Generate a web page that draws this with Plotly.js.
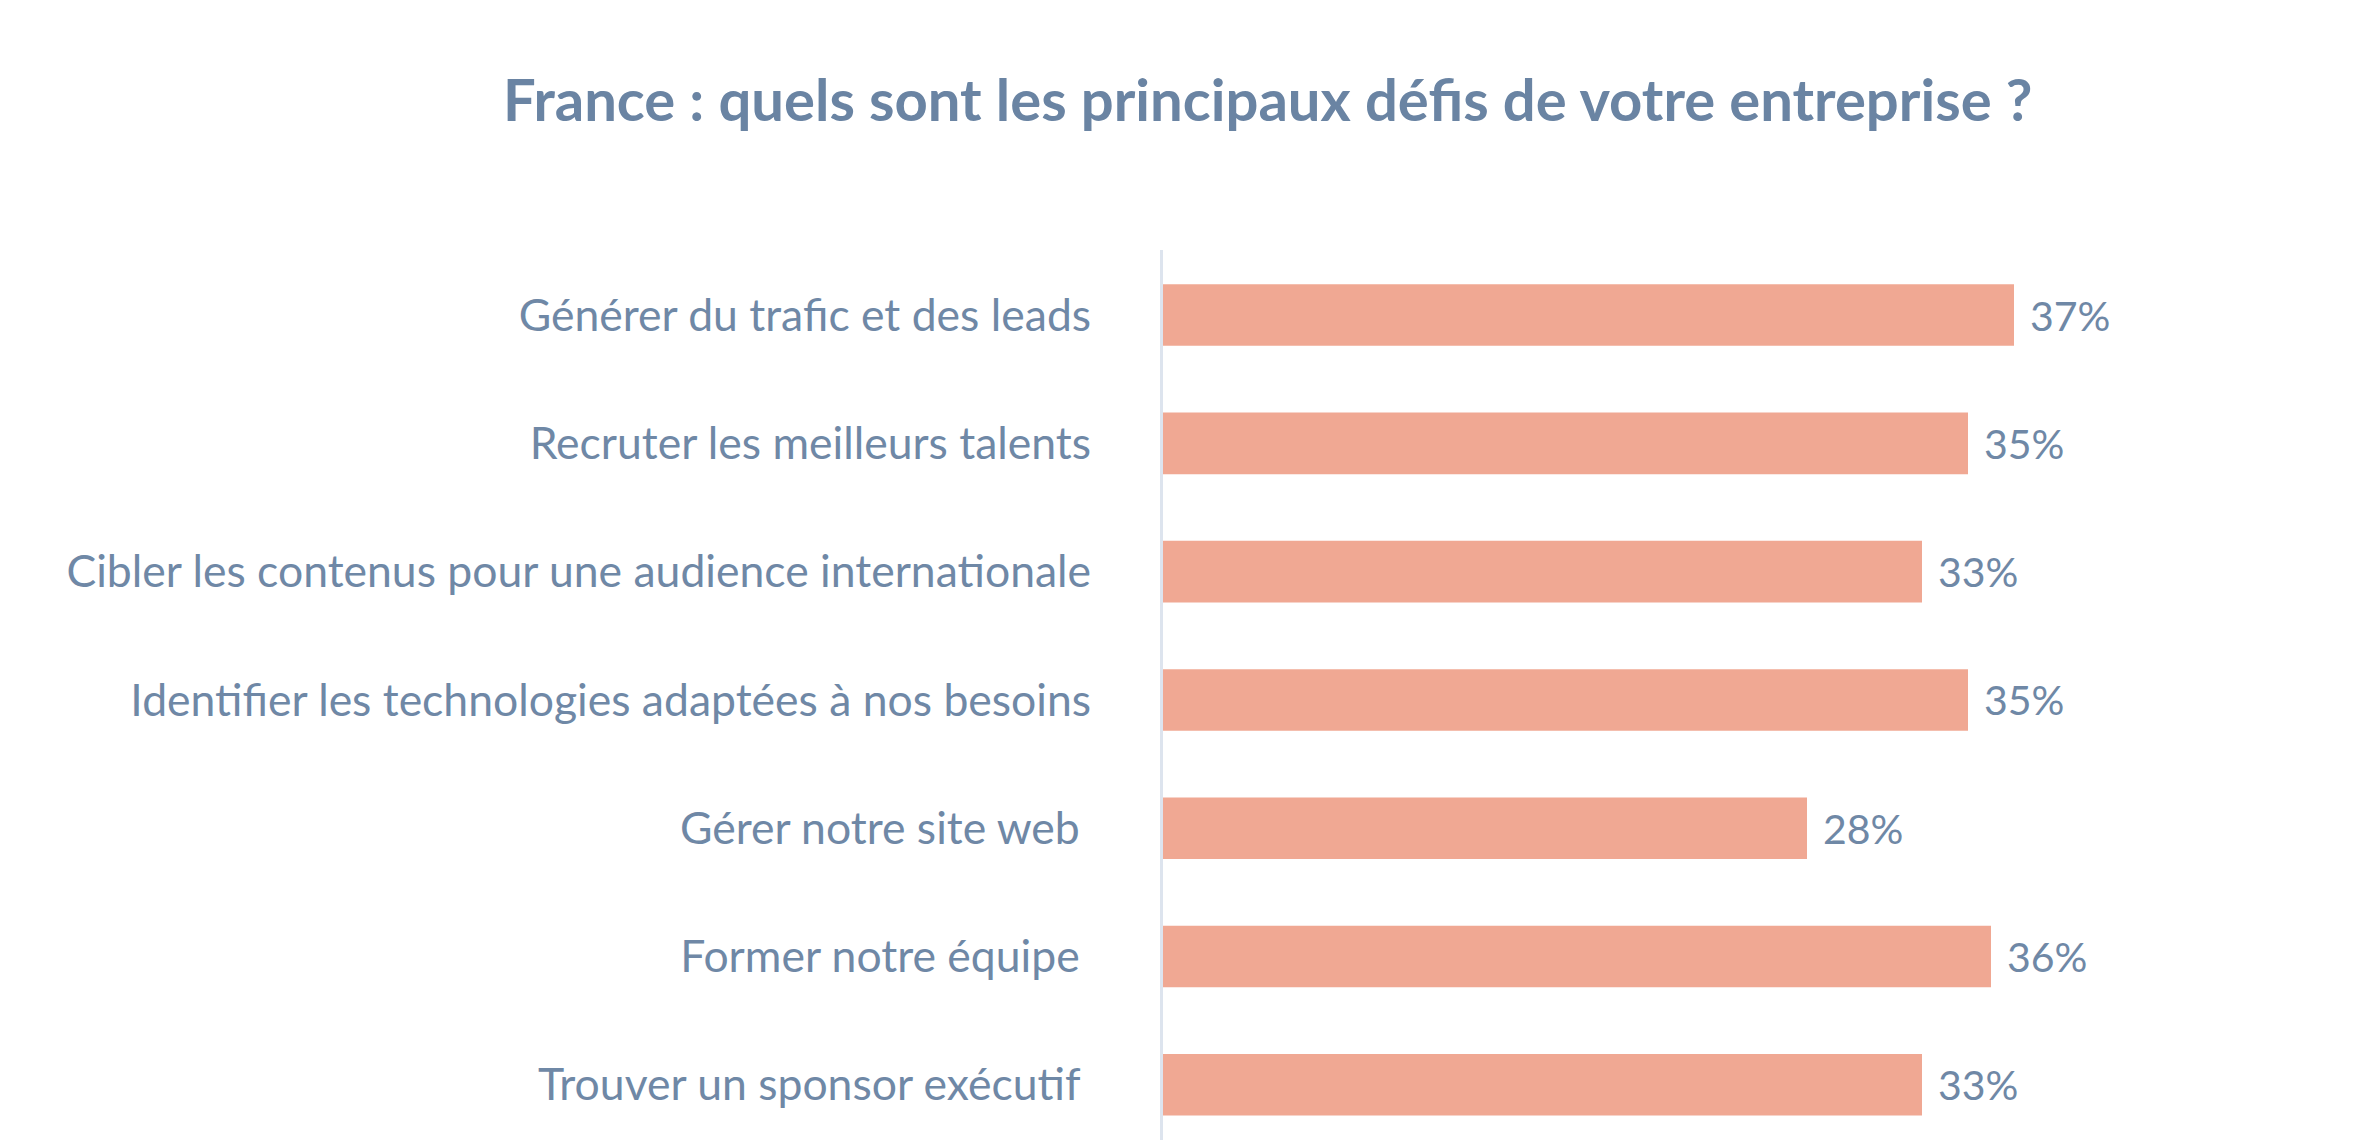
<!DOCTYPE html>
<html>
<head>
<meta charset="utf-8">
<script src="https://cdn.plot.ly/plotly-3.0.1.min.js"></script>
<style>html,body{margin:0;padding:0;background:#fff;}#chart{width:2374px;height:1140px;}</style>
</head>
<body>
<div id="chart"></div>
<script>
var categories = [
  "Générer du trafic et des leads",
  "Recruter les meilleurs talents",
  "Cibler les contenus pour une audience internationale",
  "Identifier les technologies adaptées à nos besoins",
  "Gérer notre site web\u00a0",
  "Former notre équipe\u00a0",
  "Trouver un sponsor exécutif\u00a0"
];
var values = [37, 35, 33, 35, 28, 36, 33];
var valueLabels = values.map(function(v){ return v + "%"; });
var titleText = "France : quels sont les principaux défis de votre entreprise ?";

var textColor = "#6f88a6";
var barColor = "#f0a893";

var trace = {
  type: "bar",
  orientation: "h",
  x: values,
  y: categories,
  marker: {color: barColor},
  hoverinfo: "none"
};

var annotations = values.map(function(v, i){
  return {
    x: v, y: categories[i], xref: "x", yref: "y",
    text: valueLabels[i], showarrow: false,
    xanchor: "left", yanchor: "middle", xshift: 14,
    font: {family: "Lato, sans-serif", size: 41, color: textColor}
  };
});

var layout = {
  width: 2374, height: 1140,
  paper_bgcolor: "#ffffff", plot_bgcolor: "#ffffff",
  margin: {l: 1163, r: 176, t: 250, b: 0, pad: 0},
  bargap: 0.52,
  showlegend: false,
  title: {
    text: titleText,
    font: {family: "Lato, sans-serif", size: 58, color: "#6a84a3", weight: 700},
    xref: "container", yref: "container",
    x: 0.534, y: 0.912, xanchor: "center", yanchor: "middle"
  },
  xaxis: {
    range: [0, 45], showgrid: false, zeroline: false, showline: false,
    showticklabels: false, ticks: "", fixedrange: true
  },
  yaxis: {
    type: "category",
    categoryorder: "array", categoryarray: categories,
    range: [6.43, -0.507],
    showgrid: false, zeroline: false,
    showline: true, linecolor: "#dde4ee", linewidth: 3,
    ticks: "", ticklabelstandoff: 60,
    tickfont: {family: "Lato, sans-serif", size: 44.5, color: textColor},
    fixedrange: true
  },
  annotations: annotations
};

Plotly.newPlot("chart", [trace], layout, {displayModeBar: false, staticPlot: true});
</script>
</body>
</html>
